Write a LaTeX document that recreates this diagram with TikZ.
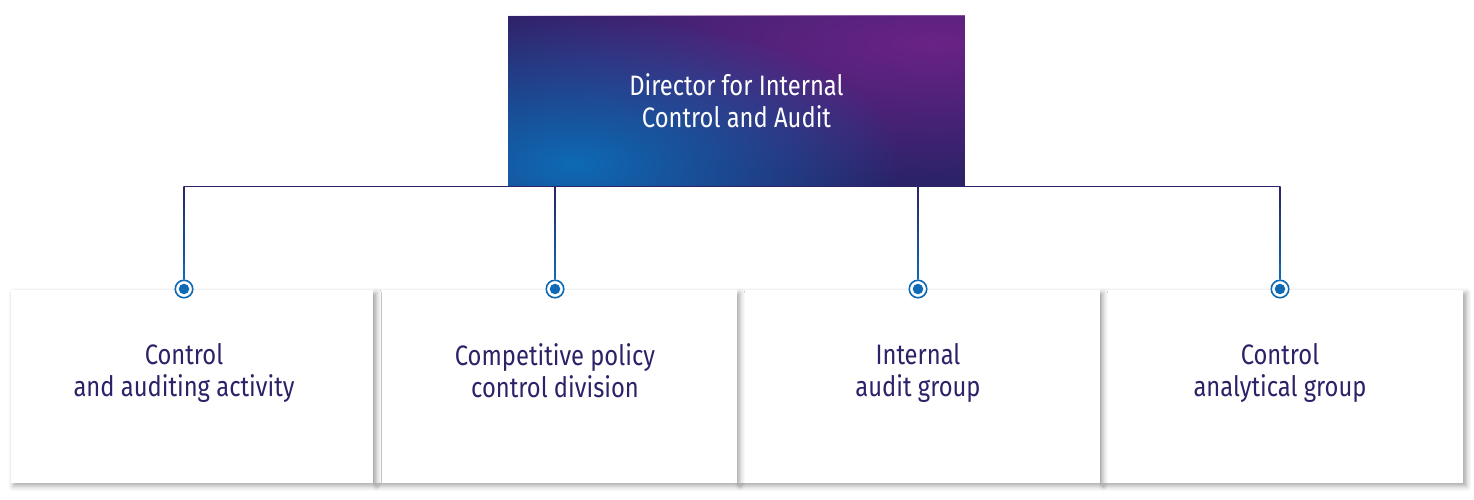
\documentclass[tikz,border=0pt]{standalone}
\usepackage{fontspec}
\setmainfont[FakeStretch=0.845]{Fira Sans}
\usetikzlibrary{shadows.blur,fadings}
\definecolor{navy}{HTML}{2B2268}
\definecolor{brandblue}{HTML}{0E6AB4}
\definecolor{violet}{HTML}{6A2386}
\tikzfading[name=glow,inner color=transparent!0,outer color=transparent!100]
\tikzset{
    headbox/.style={minimum width=9.14cm,minimum height=3.42cm,inner sep=0,outer sep=0,text=white,align=center,
        font=\fontsize{16}{18.2}\selectfont,
        path picture={
            \fill[navy] (path picture bounding box.south west) rectangle (path picture bounding box.north east);
            \fill[violet,path fading=glow] ([xshift=-0.6cm,yshift=-0.55cm]path picture bounding box.north east) ellipse [x radius=9.4cm,y radius=2.8cm];
            \fill[brandblue,path fading=glow] ([xshift=1.3cm,yshift=0.45cm]path picture bounding box.south west) ellipse [x radius=6.6cm,y radius=3cm];
        }},
    unitbox/.style={fill=white,minimum width=7.26cm,minimum height=3.86cm,inner sep=0,outer sep=0,
        blur shadow={shadow xshift=0.06cm,shadow yshift=-0.06cm,shadow blur radius=0.1cm,shadow opacity=35}},
    unittext/.style={text=navy,align=center,font=\fontsize{16}{18.2}\selectfont},
    bus/.style={navy,line width=0.6pt},
    drop/.style={top color=navy,bottom color=brandblue},
    pin/.style={circle,draw=brandblue,line width=0.9pt,fill=white,minimum size=0.35cm,inner sep=0,
        path picture={\fill[brandblue] (path picture bounding box.center) circle (0.105cm);}}
}
\begin{document}
\begin{tikzpicture}[x=0.02cm,y=-0.02cm]
    \useasboundingbox (0,0) rectangle (1474,500);
    % head of the service
    \node[headbox] (dir) at (736.5,101) {Director for Internal\\Control and Audit};
    % units, drawn right to left so each shadow falls on the next box
    \node[unitbox] (u4) at (1282,386.5) {};
    \node[unitbox] (u3) at (918.5,386.5) {};
    \node[unitbox] (u2) at (555.5,386.5) {};
    \node[unitbox] (u1) at (192,386.5) {};
    \node[unittext] (t1) at (184,375) {Control\\and auditing activity\strut};
    \node[unittext] (t2) at (555,375) {Competitive policy\\control division\strut};
    \node[unittext] (t3) at (918,375) {Internal\\audit group\strut};
    \node[unittext] (t4) at (1280,375) {Control\\analytical group\strut};
    % pins on the top edge of the units
    \node[pin] (c1) at (184,289) {};
    \node[pin] (c2) at (555,289) {};
    \node[pin] (c3) at (918,289) {};
    \node[pin] (c4) at (1280,289) {};
    % connectors
    \draw[bus] (dir.south -| c1) -- (dir.south -| c4);
    \shade[drop] ([xshift=-0.3pt]dir.south -| c1) rectangle ([xshift=0.3pt]c1.north);
    \shade[drop] ([xshift=-0.3pt]dir.south -| c2) rectangle ([xshift=0.3pt]c2.north);
    \shade[drop] ([xshift=-0.3pt]dir.south -| c3) rectangle ([xshift=0.3pt]c3.north);
    \shade[drop] ([xshift=-0.3pt]dir.south -| c4) rectangle ([xshift=0.3pt]c4.north);
\end{tikzpicture}
\end{document}
